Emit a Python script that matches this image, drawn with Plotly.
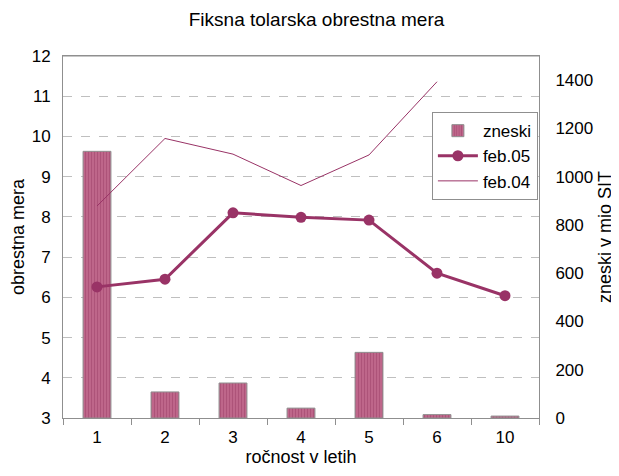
import plotly.graph_objects as go

categories = ["1", "2", "3", "4", "5", "6", "10"]
zneski = [1105, 108, 145, 41, 272, 14, 8]
feb05 = [6.26, 6.45, 8.10, 7.99, 7.92, 6.60, 6.04]
feb04 = [8.27, 9.95, 9.56, 8.78, 9.54, 11.36, None]

plum = "#993366"
font = "Liberation Sans, Arial, sans-serif"

fig = go.Figure()
# bars on the base (right-side) axis so the rate lines are drawn above them
fig.add_trace(go.Bar(
    x=categories, y=zneski, name="zneski", yaxis="y",
    width=0.41,
    marker=dict(color="#c0688c", line=dict(color="#8f8f8f", width=1),
                pattern=dict(shape="|", fgcolor="#9a3d66", bgcolor="#c0688c", size=3, solidity=0.4)),
))
fig.add_trace(go.Scatter(
    x=categories, y=feb05, name="feb.05", mode="lines+markers", yaxis="y2",
    line=dict(color=plum, width=3), marker=dict(color=plum, size=11),
))
fig.add_trace(go.Scatter(
    x=categories, y=feb04, name="feb.04", mode="lines", yaxis="y2",
    line=dict(color=plum, width=1),
))

fig.update_layout(
    width=611, height=468,
    margin=dict(l=55, r=80, t=48, b=58, autoexpand=False),
    paper_bgcolor="white", plot_bgcolor="white",
    font=dict(family=font, size=17, color="black"),
    title=dict(text="Fiksna tolarska obrestna mera", x=0.505, xanchor="center", y=0.975, yanchor="middle",
               font=dict(size=19)),
    showlegend=True,
    legend=dict(x=0.775, y=0.845, xanchor="left", yanchor="top",
                bordercolor="#8f8f8f", borderwidth=1, bgcolor="white",
                font=dict(size=17), tracegroupgap=0, itemwidth=40),
    xaxis=dict(type="category", ticks="outside", tickson="boundaries", ticklen=6,
               tickcolor="#8f8f8f", showline=True, linecolor="#8f8f8f", mirror=True,
               automargin=False, ticklabelstandoff=4,
               title=dict(text="ročnost v letih", standoff=0, font=dict(size=18)),
               showgrid=False),
    yaxis=dict(range=[0, 1500], tickvals=[0, 200, 400, 600, 800, 1000, 1200, 1400],
               side="right", showgrid=False, zeroline=False, ticks="",
               showline=True, linecolor="#8f8f8f",
               automargin=False, ticklabelstandoff=12,
               title=dict(text="zneski v mio SIT", standoff=6, font=dict(size=18))),
    yaxis2=dict(range=[3, 12], dtick=1, overlaying="y", side="left",
                showgrid=True, gridcolor="#bfbfbf", griddash="dash",
                showline=True, linecolor="#8f8f8f", ticks="", zeroline=False,
                automargin=False, ticklabelstandoff=8,
                title=dict(text="obrestna mera", standoff=6, font=dict(size=18))),
    shapes=[dict(type="line", xref="paper", yref="paper", x0=0, x1=1, y0=1, y1=1,
                 line=dict(color="#8f8f8f", width=1))],
)

fig.write_html("out.html")
